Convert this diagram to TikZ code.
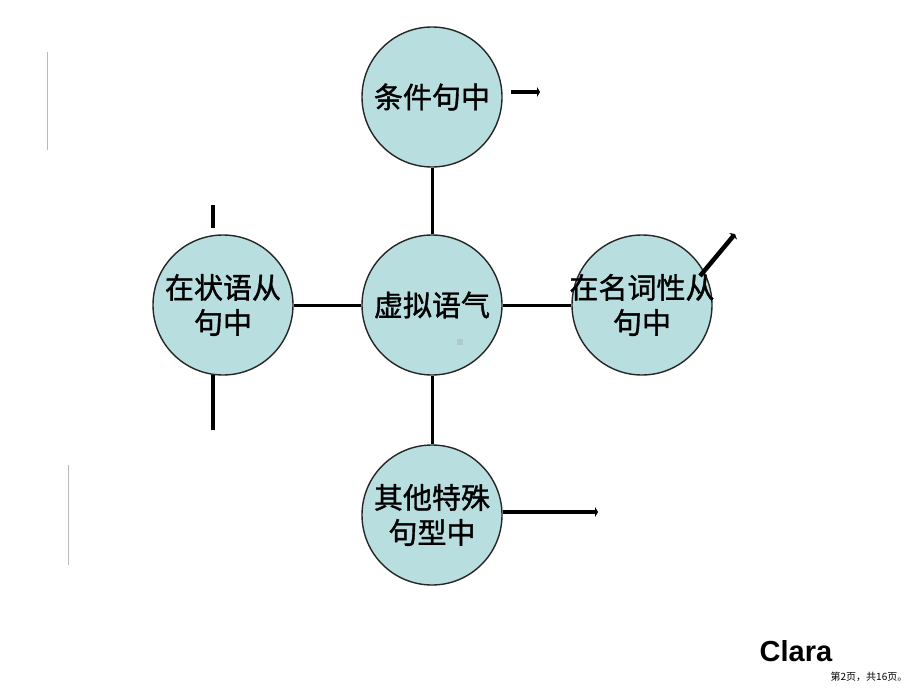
\documentclass[tikz,border=0pt]{standalone}
\usepackage{fontspec}
\setmainfont{Liberation Sans}
\newfontfamily\cjk[FakeBold=1.2]{Noto Sans CJK SC}
\newfontfamily\cjkthin{Noto Sans CJK SC}
\usetikzlibrary{arrows.meta,positioning}
\definecolor{bubblefill}{RGB}{184,222,224}

\begin{document}
\begin{tikzpicture}[x=1pt,y=-1pt,
bubble/.style={circle,draw=black!85,line width=1.4pt,fill=bubblefill,minimum size=140pt,inner sep=0pt},
caption/.style={font=\cjk\fontsize{29}{35}\selectfont,align=center,inner sep=0pt},
link/.style={line width=3pt},
stub/.style={line width=4.5pt,-{Triangle[length=3pt,width=10pt]}}]
\useasboundingbox (0,0) rectangle (920,690);
\node[bubble] (core) at (432,305) {};
\node[bubble] (cond) at (432,97) {};
\node[bubble] (advl) at (223,305) {};
\node[bubble] (noun) at (642,305) {};
\node[bubble] (other) at (432,515) {};
\node[caption] (coretext) at (core) {虚拟语气};
\node[caption] (condtext) at (cond) {条件句中};
\node[caption] (advltext) at (advl) {在状语从\\句中};
\node[caption] (nountext) at (noun) {在名词性从\\句中};
\node[caption] (othertext) at (other) {其他特殊\\句型中};
\draw[link] (cond)--(core)--(other);
\draw[link] (advl)--(core)--(noun);
% loose strokes around the bubbles
\coordinate (c1) at (511,92);
\coordinate (c2) at (540,92);
\coordinate (o1) at (503,512);
\coordinate (o2) at (598,512);
\coordinate (n1) at (700,276);
\coordinate (n2) at (735,234);
\coordinate (a1) at (213,205);
\coordinate (a2) at (213,228);
\coordinate (a3) at (213,375);
\coordinate (a4) at (213,430);
\draw[stub] (c1)--(c2);
\draw[stub] (o1)--(o2);
\draw[stub] (n1)--(n2);
\draw[line width=4.5pt] (a1)--(a2);
\draw[line width=4.5pt] (a3)--(a4);
\draw[gray!55,line width=1pt] (47,52)--(47,150);
\draw[gray!55,line width=1pt] (68,465)--(68,565);
\fill[bubblefill!80!gray] (457,339) rectangle (463,345);
\node[font=\bfseries\fontsize{29}{29}\selectfont,inner sep=0pt] (brand) at (796,651) {Clara};
\node[font=\cjkthin\fontsize{10}{10}\selectfont,inner sep=0pt] (pageno) at (869,677) {第2页，共16页。};
\end{tikzpicture}
\end{document}
